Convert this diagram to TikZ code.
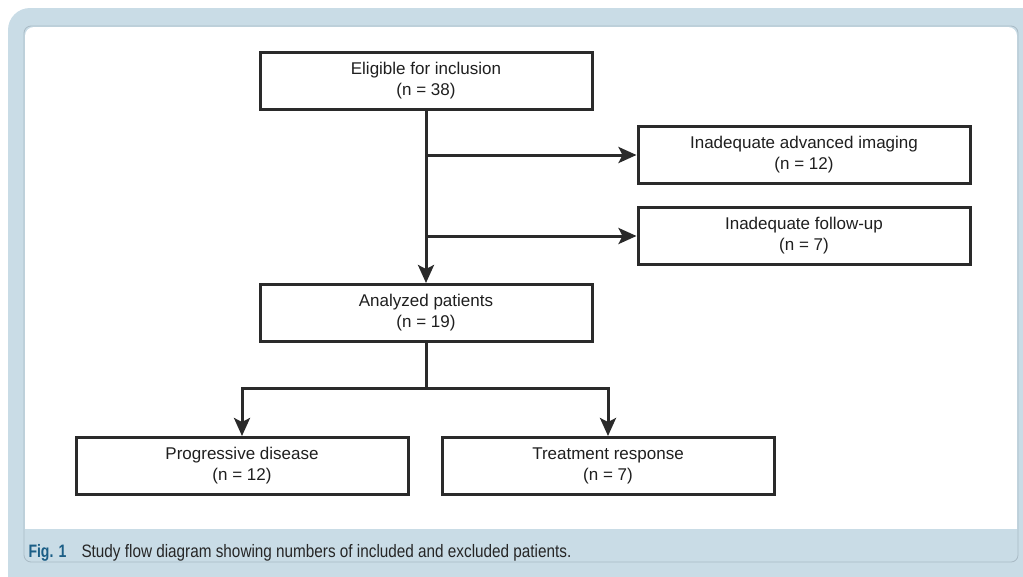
\documentclass[tikz,border=0pt]{standalone}
\usepackage{fontspec}
\setmainfont{Liberation Sans}
\newfontfamily\capfont[FakeStretch=0.85]{Liberation Sans}
\newfontfamily\figfont[FakeStretch=0.78]{Liberation Sans}
\usetikzlibrary{arrows.meta}
\definecolor{framebg}{HTML}{C9DCE6}
\definecolor{frameline}{HTML}{A9BAC5}
\definecolor{ink}{HTML}{2A2A2A}
\definecolor{figblue}{HTML}{1B5E86}
\tikzstyle{block} = [align=center,draw=ink,rectangle,text centered,line width=3pt,minimum width=332pt,minimum height=57pt,inner sep=0pt,text=black!88,font=\fontsize{17}{21}\selectfont]
\tikzstyle{caption} = [anchor=base west,inner sep=0pt,font=\capfont\fontsize{18}{20}\selectfont]

\begin{document}
\begin{tikzpicture}[x=1pt,y=-1pt,node distance=232pt,color=ink,line width=3pt,>={Stealth[length=18pt,width=16pt,inset=4pt]}]
				% frame and caption band
				\useasboundingbox (0,0) rectangle (1023,576);
				\fill[framebg,rounded corners=22pt] (8,8) rectangle (1060,600);
				\fill[white,rounded corners=9pt] (25,27) rectangle (1017,545);
				\fill[framebg] (24.5,529) rectangle (1017.5,561.5);
				\draw[frameline,line width=0.8pt,rounded corners=7pt] (24,26) rectangle (1018,562);
				\node (fig) [caption,text=figblue,font=\figfont\fontsize{18}{20}\selectfont\bfseries] at (27,557) {Fig. 1};
				\node (cap) [caption,text=black!85] at (80,557) {Study flow diagram showing numbers of included and excluded patients.};
				% flow
				\node (elig) [block] at (426,81) {Eligible for inclusion\\(n = 38)};
				\node (anl) [block,below of=elig] {Analyzed patients\\(n = 19)};
				\node (img) [block] at (804,155) {Inadequate advanced imaging\\(n = 12)};
				\node (fu) [block,below of=img,node distance=81pt] {Inadequate follow-up\\(n = 7)};
				\node (prog) [block] at (242,466) {Progressive disease\\(n = 12)};
				\node (resp) [block,right of=prog,node distance=366pt] {Treatment response\\(n = 7)};
				\coordinate (split) at (426,388);
				\draw [->] (elig) -- (anl);
				\draw [->] (elig.south |- img.west) -- (img);
				\draw [->] (elig.south |- fu.west) -- (fu);
				\draw (anl) -- (split);
				\draw [->] (split) -| (prog);
				\draw [->] (split) -| (resp);
			\end{tikzpicture}
\end{document}
